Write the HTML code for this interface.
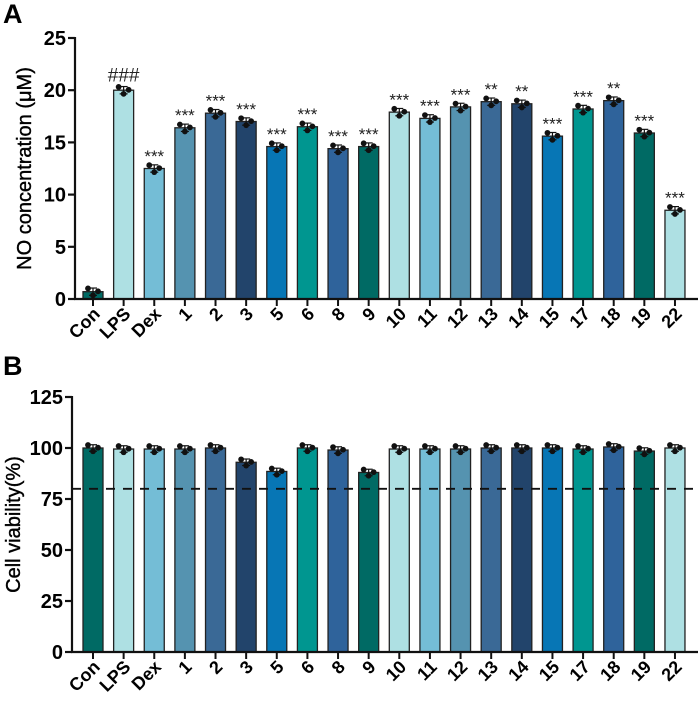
<!DOCTYPE html>
<html><head><meta charset="utf-8"><style>
body{margin:0;background:#fff;width:700px;height:704px;overflow:hidden}
svg text{font-family:"Liberation Sans",Arial,sans-serif}
</style></head><body>
<svg id="c" width="700" height="704" xmlns="http://www.w3.org/2000/svg"></svg>
<script>
const categories=["Con","LPS","Dex","1","2","3","5","6","8","9","10","11","12","13","14","15","17","18","19","22"];
const noValues=[0.7,20.0,12.5,16.4,17.8,17.0,14.6,16.5,14.4,14.6,17.9,17.3,18.4,18.9,18.7,15.6,18.2,19.0,15.9,8.5];
const noSig=["","###","***","***","***","***","***","***","***","***","***","***","***","**","**","***","***","**","***","***"];
const viabValues=[100,99.5,99.5,99.5,100,93,88.5,100,99,88,99.5,99.5,99.5,100,100,100,99.5,100.5,98.5,100];
const noTicks=[0,5,10,15,20,25];
const viabTicks=[0,25,50,75,100,125];
const threshold=80;
const colors=["#006a64","#aee0e3","#74bdd6","#5593b0","#3a6996","#22446b","#0776b5","#009690","#2f639b"];
const svg=document.getElementById('c');
const NS="http://www.w3.org/2000/svg";
function mk(t,a,p){const e=document.createElementNS(NS,t);for(const k in a)e.setAttribute(k,a[k]);(p||svg).appendChild(e);return e;}
function xPos(i){return 93+i*30.63;}
function panel(o){
  const g=mk('g',{});
  
  
  const y=v=>o.y0-(v-o.min)/(o.max-o.min)*(o.y0-o.y1);
  const L=mk('text',{x:o.lx,y:o.ly,'font-size':27,'font-weight':'bold'},g);L.textContent=o.letter;
  
  o.vals.forEach((v,i)=>{
    const cx=xPos(i),w=20;
    const r=mk('rect',{x:cx-w/2,y:y(v),width:w,height:o.y0-y(v),fill:colors[i%9],stroke:'#222','stroke-width':1.3},g);
    
    const e=o.err;
    mk('line',{x1:cx,x2:cx,y1:y(v+e),y2:y(v-e),stroke:'#111','stroke-width':1.2},g);
    mk('line',{x1:cx-4,x2:cx+4,y1:y(v+e),y2:y(v+e),stroke:'#111','stroke-width':1.2},g);
    mk('line',{x1:cx-4,x2:cx+4,y1:y(v-e),y2:y(v-e),stroke:'#111','stroke-width':1.2},g);
    [[-5,e*0.9],[0,-e],[5,0.1*e]].forEach(d=>{const c=mk('circle',{cx:cx+d[0],cy:y(v+d[1]),r:2.9,fill:'#111'},g);
      });
    if(o.sig&&o.sig[i]){const h=o.sig[i]=='###';const s=mk('text',{x:cx,y:y(v+e)-(h?5:3),'font-size':h?19:17,'text-anchor':'middle',fill:'#222','font-family':h?'"Liberation Serif",serif':'"Liberation Sans",sans-serif'},g);s.textContent=o.sig[i];
      }
    mk('line',{x1:cx,x2:cx,y1:o.y0,y2:o.y0+7,stroke:'#111','stroke-width':2},g);
    const t=mk('text',{x:0,y:0,'font-size':18,'font-weight':'bold','text-anchor':'end',transform:`translate(${cx+8},${o.y0+16}) rotate(-45)`},g);t.textContent=categories[i];
    
  });
  if(o.thr!=null){const d=mk('line',{x1:o.ax,x2:695,y1:y(o.thr),y2:y(o.thr),stroke:'#111','stroke-width':1.8,'stroke-dasharray':'9,8'},g);
    }
  mk('line',{x1:o.ax,x2:o.ax,y1:o.y1-1,y2:o.y0+1,stroke:'#111','stroke-width':2.2},g);
  mk('line',{x1:o.ax-1,x2:698,y1:o.y0,y2:o.y0,stroke:'#111','stroke-width':2.2},g);
  o.ticks.forEach(tv=>{mk('line',{x1:o.ax-7,x2:o.ax,y1:y(tv),y2:y(tv),stroke:'#111','stroke-width':2.2},g);
    const t=mk('text',{x:o.ax-9,y:y(tv)+7,'font-size':20,'font-weight':'bold','text-anchor':'end'},g);t.textContent=tv;
    });
  const yt=mk('text',{x:0,y:0,'font-size':20,'text-anchor':'middle',stroke:'#000','stroke-width':0.4,transform:`translate(${o.tx},${(o.y0+o.y1)/2}) rotate(-90)`},g);yt.textContent=o.title;
  
}
panel({name:'panel-a-no',letter:'A',lx:3,ly:23,vals:noValues,sig:noSig,err:0.35,min:0,max:25,y0:299,y1:38,ax:75,ticks:noTicks,title:'NO concentration (μM)',tx:31});
panel({name:'panel-b-viability',letter:'B',lx:3,ly:375,vals:viabValues,err:1.6,min:0,max:125,y0:652,y1:397,ax:72,ticks:viabTicks,thr:threshold,title:'Cell viability(%)',tx:20});
</script>
</body></html>
